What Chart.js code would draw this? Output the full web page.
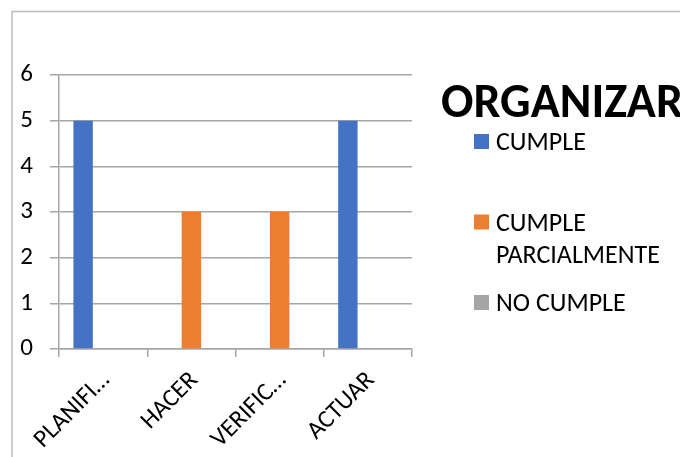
<!DOCTYPE html>
<html>
<head>
<meta charset="utf-8">
<script src="https://cdn.jsdelivr.net/npm/chart.js@4"></script>
<style>
  html, body { margin: 0; padding: 0; background: #fff; }
  #wrap { width: 680px; height: 457px; }
</style>
</head>
<body>
<div id="wrap"><canvas id="orgChart" width="680" height="457"></canvas></div>
<script>
// categories and series
const etapas = ["PLANIFICAR", "HACER", "VERIFICAR", "ACTUAR"];
const cumple = [5, 0, 0, 5];
const cumpleParcial = [0, 3, 3, 0];
const noCumple = [0, 0, 0, 0];
const yTicks = [0, 1, 2, 3, 4, 5, 6];

const FONT = "Carlito, Calibri, Lato, sans-serif";

document.addEventListener("DOMContentLoaded", function () {

  // --- outer frame + title + legend drawn on the canvas ---
  const decorPlugin = {
    id: "decor",
    beforeDraw(chart) {
      const c = chart.ctx;
      c.save();
      c.fillStyle = "#fff";
      c.fillRect(0, 0, chart.width, chart.height);
      c.strokeStyle = "#bdbdbd";
      c.lineWidth = 1.5;
      c.strokeRect(12, 11.5, chart.width + 50, chart.height + 50);
      c.restore();
    },
    afterDraw(chart) {
      const c = chart.ctx;
      c.save();
      c.fillStyle = "#000";
      c.textBaseline = "alphabetic";
      c.font = "bold 48px " + FONT;
      c.fillText("ORGANIZAR", 441, 117);

      // legend, one entry every 80px, long labels wrap
      c.font = "26px " + FONT;
      const maxW = chart.width - 496;
      chart.data.datasets.forEach((ds, i) => {
        const base = 150 + i * 80.5;
        c.fillStyle = ds.backgroundColor;
        c.fillRect(474, base - 16, 15, 15);
        c.fillStyle = "#000";
        const words = ds.label.split(" ");
        let line = "", lines = [];
        words.forEach(w => {
          const test = line ? line + " " + w : w;
          if (c.measureText(test).width > maxW && line) { lines.push(line); line = w; }
          else line = test;
        });
        lines.push(line);
        lines.forEach((t, k) => c.fillText(t, 496, base + k * 32));
      });
      c.restore();
    }
  };

  const ctx = document.getElementById("orgChart").getContext("2d");

  new Chart(ctx, {
    type: "bar",
    data: {
      labels: etapas,
      datasets: [
        { label: "CUMPLE", data: cumple, backgroundColor: "#4472C4" },
        { label: "CUMPLE PARCIALMENTE", data: cumpleParcial, backgroundColor: "#ED7D31" },
        { label: "NO CUMPLE", data: noCumple, backgroundColor: "#A5A5A5" }
      ]
    },
    options: {
      responsive: false,
      animation: false,
      devicePixelRatio: 1,
      categoryPercentage: 0.68,
      barPercentage: 0.97,
      layout: { padding: { left: 0, top: 75, right: 268, bottom: 0 } },
      plugins: {
        legend: { display: false },
        title: { display: false },
        tooltip: { enabled: false }
      },
      scales: {
        x: {
          afterFit: s => { s.height = 108; },
          grid: {
            display: true,
            offset: true,
            drawOnChartArea: false,
            drawTicks: true,
            tickLength: 8,
            color: "#a6a6a6",
            lineWidth: 1.5
          },
          border: { display: true, color: "#a6a6a6", width: 1.5 },
          ticks: {
            color: "#000",
            font: { family: FONT, size: 25 },
            minRotation: 45,
            maxRotation: 45,
            autoSkip: false,
            padding: 9,
            labelOffset: 3,
            callback: function (v) {
              const t = this.getLabelForValue(v);
              return t.length > 7 ? t.slice(0, 7) + "…" : t;
            }
          }
        },
        y: {
          min: 0,
          max: 6,
          afterFit: s => { s.width = 59; },
          afterBuildTicks: s => { s.ticks = yTicks.map(v => ({ value: v })); },
          grid: {
            color: "#a6a6a6",
            lineWidth: 1.5,
            drawTicks: true,
            tickLength: 9
          },
          border: { display: true, color: "#a6a6a6", width: 1.5 },
          ticks: {
            color: "#000",
            font: { family: FONT, size: 25 },
            padding: 17
          }
        }
      }
    },
    plugins: [decorPlugin]
  });
});
</script>
</body>
</html>
